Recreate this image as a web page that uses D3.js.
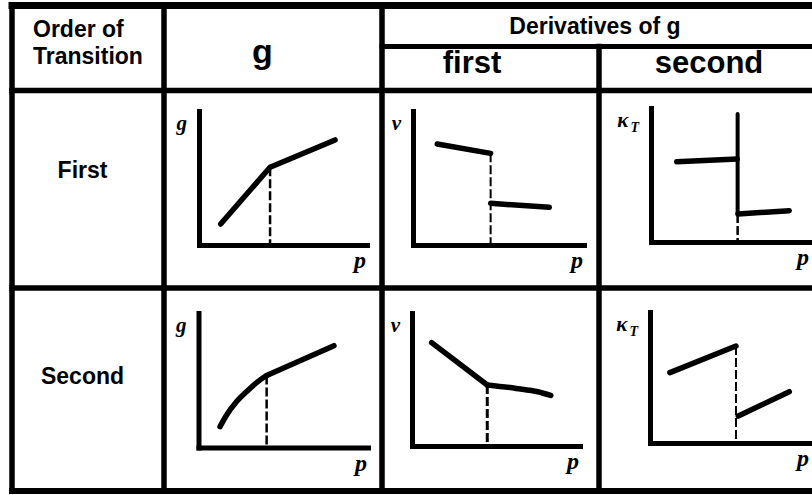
<!DOCTYPE html>
<html>
<head>
<meta charset="utf-8">
<script src="https://cdn.jsdelivr.net/npm/d3@7"></script>
<style>
  html, body { margin: 0; padding: 0; background: #fff; }
  svg { display: block; }
</style>
</head>
<body>
<svg id="chart" width="812" height="495"></svg>
<script>
// ---- Table text ----
const cornerLabel = ["Order of", "Transition"];
const gHeader = "g";
const groupHeader = "Derivatives of g";
const derivativeHeaders = ["first", "second"];
const rowLabels = ["First", "Second"];
const yAxisLabels = ["g", "ν", "κ"];
const yAxisSubscripts = ["", "", "T"];
const xAxisLabel = "p";

// ---- Sketch data, in axis units (p and quantity both span 0..10) ----
// First-order transition
const gFirst = [[1.29, 1.57], [4.23, 5.80], [8.10, 7.84]];
const vFirstBefore = [[1.42, 7.54], [4.54, 6.84]];
const vFirstAfter = [[4.54, 3.11], [7.97, 2.81]];
const kFirstBefore = [[1.56, 5.99], [5.22, 6.19]];
const kFirstAfter = [[5.27, 2.09], [8.38, 2.34]];
const kFirstSpikeTop = 9.55;
const pFirst = [4.23, 4.54, 5.25];

// Second-order transition
const gSecondCurve = [[1.27, 1.55], [1.66, 2.42], [2.25, 3.42], [2.84, 4.16], [3.43, 4.83], [4.02, 5.35]];
const gSecondAfter = [[4.02, 5.35], [7.99, 7.57]];
const vSecondBefore = [[1.17, 7.77], [4.48, 4.59]];
const vSecondAfter = [[4.48, 4.59], [6.2, 4.33], [7.5, 4.08], [8.26, 3.80]];
const kSecondBefore = [[1.20, 5.37], [5.18, 7.40]];
const kSecondAfter = [[5.32, 2.06], [8.39, 3.92]];
const pSecond = [4.02, 4.48, 5.18];

// ---- Layout ----
const svg = d3.select("#chart");
const W = 812, H = 495;
const gridX = [12, 164, 382, 599, 822];
const gridY = [5.5, 46.5, 90.5, 288, 491];
const LINE = 5.5;

svg.append("rect").attr("width", W).attr("height", H).attr("fill", "#fff");

const grid = svg.append("g").attr("stroke", "#000").attr("stroke-linecap", "square");
// outer frame
grid.append("line").attr("x1", gridX[0]).attr("x2", gridX[4]).attr("y1", gridY[0]).attr("y2", gridY[0]).attr("stroke-width", 7);
grid.append("line").attr("x1", gridX[0]).attr("x2", gridX[4]).attr("y1", gridY[4]).attr("y2", gridY[4]).attr("stroke-width", 6);
grid.append("line").attr("x1", gridX[0]).attr("x2", gridX[0]).attr("y1", gridY[0]).attr("y2", gridY[4]).attr("stroke-width", LINE);
grid.append("line").attr("x1", gridX[4]).attr("x2", gridX[4]).attr("y1", gridY[0]).attr("y2", gridY[4]).attr("stroke-width", LINE);
// inner rules
grid.append("line").attr("x1", gridX[1]).attr("x2", gridX[1]).attr("y1", gridY[0]).attr("y2", gridY[4]).attr("stroke-width", LINE);
grid.append("line").attr("x1", gridX[2]).attr("x2", gridX[2]).attr("y1", gridY[0]).attr("y2", gridY[4]).attr("stroke-width", LINE);
grid.append("line").attr("x1", gridX[3]).attr("x2", gridX[3]).attr("y1", gridY[1]).attr("y2", gridY[4]).attr("stroke-width", LINE);
grid.append("line").attr("x1", gridX[2]).attr("x2", gridX[4]).attr("y1", gridY[1]).attr("y2", gridY[1]).attr("stroke-width", 5);
grid.append("line").attr("x1", gridX[0]).attr("x2", gridX[4]).attr("y1", gridY[2]).attr("y2", gridY[2]).attr("stroke-width", LINE);
grid.append("line").attr("x1", gridX[0]).attr("x2", gridX[4]).attr("y1", gridY[3]).attr("y2", gridY[3]).attr("stroke-width", LINE);

// ---- Header text ----
const sans = "'Liberation Sans', Arial, sans-serif";
const txt = svg.append("g").attr("font-family", sans).attr("font-weight", "bold").attr("fill", "#000");
txt.selectAll("text.corner").data(cornerLabel).join("text")
  .attr("class", "corner").attr("x", 33).attr("y", (d, i) => 37 + i * 27)
  .attr("font-size", 23).text(d => d);
txt.append("text").attr("x", 262.5).attr("y", 63).attr("text-anchor", "middle")
  .attr("font-size", 34).text(gHeader);
txt.append("text").attr("x", 595).attr("y", 34).attr("text-anchor", "middle")
  .attr("font-size", 23).text(groupHeader);
txt.selectAll("text.deriv").data(derivativeHeaders).join("text")
  .attr("class", "deriv").attr("x", (d, i) => [472, 709][i]).attr("y", 73)
  .attr("text-anchor", "middle").attr("font-size", 31).text(d => d);
txt.selectAll("text.row").data(rowLabels).join("text")
  .attr("class", "row").attr("x", 82.5).attr("y", (d, i) => [178, 384][i])
  .attr("text-anchor", "middle").attr("font-size", 23).text(d => d);

// ---- Sketch panels ----
const frames = [
  [{x0: 199, x1: 367, y0: 245, y1: 111}, {x0: 413, x1: 584, y0: 245, y1: 111}, {x0: 651, x1: 816, y0: 242, y1: 108}],
  [{x0: 198.5, x1: 368, y0: 447.5, y1: 313}, {x0: 412, x1: 580, y0: 446, y1: 313}, {x0: 650, x1: 816, y0: 443, y1: 312}]
];

const panels = [
  // row 0 : first order
  {row: 0, col: 0, lines: [{pts: gFirst}], dashed: [{p: pFirst[0], top: gFirst[1][1], w: 2.5}]},
  {row: 0, col: 1, lines: [{pts: vFirstBefore}, {pts: vFirstAfter}],
   dashed: [{p: pFirst[1], top: vFirstBefore[1][1], w: 2}]},
  {row: 0, col: 2, lines: [{pts: kFirstBefore}, {pts: kFirstAfter}],
   spike: {p: pFirst[2], top: kFirstSpikeTop, bottom: kFirstAfter[0][1]},
   dashed: [{p: pFirst[2], top: kFirstAfter[0][1], w: 2.5}]},
  // row 1 : second order
  {row: 1, col: 0, lines: [{pts: gSecondCurve, curve: d3.curveMonotoneX}, {pts: gSecondAfter}],
   dashed: [{p: pSecond[0], top: gSecondAfter[0][1], w: 2.5}]},
  {row: 1, col: 1, lines: [{pts: vSecondBefore}, {pts: vSecondAfter, curve: d3.curveMonotoneX}],
   dashed: [{p: pSecond[1], top: vSecondBefore[1][1], w: 3}]},
  {row: 1, col: 2, lines: [{pts: kSecondBefore}, {pts: kSecondAfter}],
   dashed: [{p: pSecond[2], top: kSecondBefore[1][1], w: 2}]}
];

const serif = "'Liberation Serif', 'Times New Roman', serif";

panels.forEach(pn => {
  const f = frames[pn.row][pn.col];
  const x = d3.scaleLinear().domain([0, 10]).range([f.x0, f.x1]);
  const y = d3.scaleLinear().domain([0, 10]).range([f.y0, f.y1]);
  const g = svg.append("g");

  // dashed guides
  (pn.dashed || []).forEach(d => {
    g.append("line")
      .attr("x1", x(d.p)).attr("x2", x(d.p))
      .attr("y1", y(d.top)).attr("y2", y(0))
      .attr("stroke", "#000").attr("stroke-width", d.w)
      .attr("stroke-dasharray", "9,3");
  });

  // divergence at the transition
  if (pn.spike) {
    g.append("line")
      .attr("x1", x(pn.spike.p)).attr("x2", x(pn.spike.p))
      .attr("y1", y(pn.spike.top)).attr("y2", y(pn.spike.bottom))
      .attr("stroke", "#000").attr("stroke-width", 4).attr("stroke-linecap", "round");
  }

  // axes
  const ax = g.append("g").attr("transform", `translate(0,${f.y0})`)
    .call(d3.axisBottom(x).tickValues([]).tickSizeOuter(0));
  const ay = g.append("g").attr("transform", `translate(${f.x0},0)`)
    .call(d3.axisLeft(y).tickValues([]).tickSizeOuter(0));
  [ax, ay].forEach(a => a.select(".domain")
    .attr("stroke", "#000").attr("stroke-width", 5).attr("stroke-linecap", "square"));

  // curves
  pn.lines.forEach(l => {
    g.append("path")
      .attr("d", d3.line().x(d => x(d[0])).y(d => y(d[1])).curve(l.curve || d3.curveLinear)(l.pts))
      .attr("fill", "none").attr("stroke", "#000").attr("stroke-width", 5.5)
      .attr("stroke-linecap", "round").attr("stroke-linejoin", "round");
  });

  // axis labels
  const yl = g.append("text")
    .attr("x", f.x0 - 12).attr("y", f.y1 + 19)
    .attr("text-anchor", "end")
    .attr("font-family", serif).attr("font-weight", "bold").attr("font-style", "italic")
    .attr("font-size", 21).text(yAxisLabels[pn.col]);
  if (yAxisSubscripts[pn.col]) {
    yl.append("tspan").attr("dx", 2).attr("dy", 5).attr("font-size", 14).text(yAxisSubscripts[pn.col]);
  }
  g.append("text")
    .attr("x", Math.min(f.x1 - 1, W - 3)).attr("y", f.y0 + 23)
    .attr("text-anchor", "end")
    .attr("font-family", serif).attr("font-weight", "bold").attr("font-style", "italic")
    .attr("font-size", 24).text(xAxisLabel);
});
</script>
</body>
</html>
